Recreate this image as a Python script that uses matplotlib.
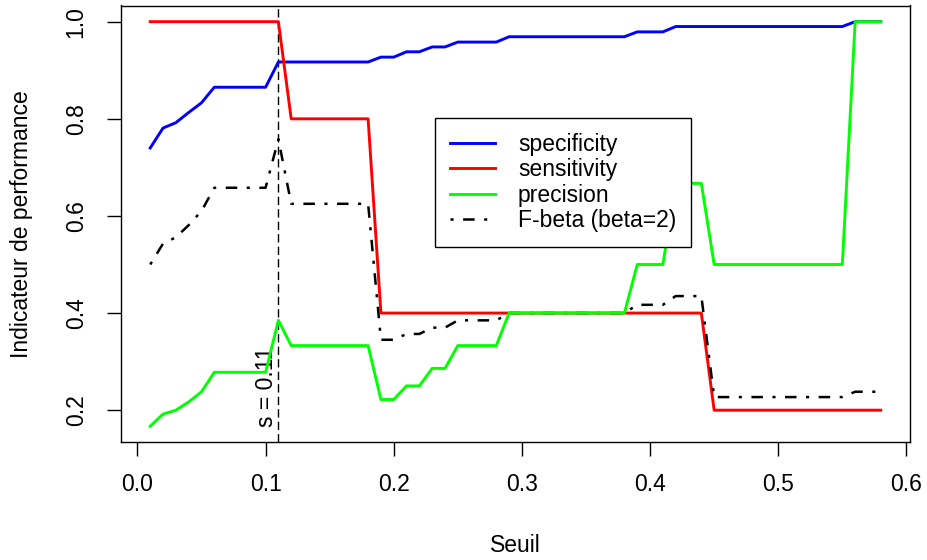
import matplotlib
matplotlib.use("Agg")
import matplotlib.pyplot as plt

# ---- data ----
seuil = [0.01, 0.02, 0.03, 0.04, 0.05, 0.06, 0.07, 0.08, 0.09, 0.10,
         0.11, 0.12, 0.13, 0.14, 0.15, 0.16, 0.17, 0.18, 0.19, 0.20,
         0.21, 0.22, 0.23, 0.24, 0.25, 0.26, 0.27, 0.28, 0.29, 0.30,
         0.31, 0.32, 0.33, 0.34, 0.35, 0.36, 0.37, 0.38, 0.39, 0.40,
         0.41, 0.42, 0.43, 0.44, 0.45, 0.46, 0.47, 0.48, 0.49, 0.50,
         0.51, 0.52, 0.53, 0.54, 0.55, 0.56, 0.57, 0.58]

specificity = [0.740, 0.781, 0.792, 0.813, 0.833, 0.865, 0.865, 0.865, 0.865, 0.865,
               0.917, 0.917, 0.917, 0.917, 0.917, 0.917, 0.917, 0.917, 0.927, 0.927,
               0.938, 0.938, 0.948, 0.948, 0.958, 0.958, 0.958, 0.958, 0.969, 0.969,
               0.969, 0.969, 0.969, 0.969, 0.969, 0.969, 0.969, 0.969, 0.979, 0.979,
               0.979, 0.990, 0.990, 0.990, 0.990, 0.990, 0.990, 0.990, 0.990, 0.990,
               0.990, 0.990, 0.990, 0.990, 0.990, 1.000, 1.000, 1.000]

sensitivity = [1.0, 1.0, 1.0, 1.0, 1.0, 1.0, 1.0, 1.0, 1.0, 1.0,
               1.0, 0.8, 0.8, 0.8, 0.8, 0.8, 0.8, 0.8, 0.4, 0.4,
               0.4, 0.4, 0.4, 0.4, 0.4, 0.4, 0.4, 0.4, 0.4, 0.4,
               0.4, 0.4, 0.4, 0.4, 0.4, 0.4, 0.4, 0.4, 0.4, 0.4,
               0.4, 0.4, 0.4, 0.4, 0.2, 0.2, 0.2, 0.2, 0.2, 0.2,
               0.2, 0.2, 0.2, 0.2, 0.2, 0.2, 0.2, 0.2]

precision = [0.167, 0.192, 0.200, 0.217, 0.238, 0.278, 0.278, 0.278, 0.278, 0.278,
             0.385, 0.333, 0.333, 0.333, 0.333, 0.333, 0.333, 0.333, 0.222, 0.222,
             0.250, 0.250, 0.286, 0.286, 0.333, 0.333, 0.333, 0.333, 0.400, 0.400,
             0.400, 0.400, 0.400, 0.400, 0.400, 0.400, 0.400, 0.400, 0.500, 0.500,
             0.500, 0.667, 0.667, 0.667, 0.500, 0.500, 0.500, 0.500, 0.500, 0.500,
             0.500, 0.500, 0.500, 0.500, 0.500, 1.000, 1.000, 1.000]

fbeta = [0.500, 0.543, 0.556, 0.581, 0.610, 0.658, 0.658, 0.658, 0.658, 0.658,
         0.758, 0.625, 0.625, 0.625, 0.625, 0.625, 0.625, 0.625, 0.345, 0.345,
         0.357, 0.357, 0.370, 0.370, 0.385, 0.385, 0.385, 0.385, 0.400, 0.400,
         0.400, 0.400, 0.400, 0.400, 0.400, 0.400, 0.400, 0.400, 0.417, 0.417,
         0.417, 0.435, 0.435, 0.435, 0.227, 0.227, 0.227, 0.227, 0.227, 0.227,
         0.227, 0.227, 0.227, 0.227, 0.227, 0.238, 0.238, 0.238]

best_seuil = 0.11
series_labels = ["specificity", "sensitivity", "precision", "F-beta (beta=2)"]
xticks = [0.0, 0.1, 0.2, 0.3, 0.4, 0.5, 0.6]
xticklabels = ["0.0", "0.1", "0.2", "0.3", "0.4", "0.5", "0.6"]
yticks = [0.2, 0.4, 0.6, 0.8, 1.0]
yticklabels = ["0.2", "0.4", "0.6", "0.8", "1.0"]

# ---- style ----
plt.rcParams["font.family"] = ["Liberation Sans", "DejaVu Sans"]
fs = 16.5
lw = 2.1
lw_black = 1.8

W, H = 928, 560
fig = plt.figure(figsize=(W / 100, H / 100), dpi=100)
ax = fig.add_axes([121 / W, 1 - 442.4 / H, (910 - 121) / W, (442.4 - 5.5) / H])

l1, = ax.plot(seuil, specificity, color="#0000FF", lw=lw, zorder=3)
l2, = ax.plot(seuil, sensitivity, color="#FF0000", lw=lw, zorder=4)
l4, = ax.plot(seuil, fbeta, color="black", lw=lw_black,
              ls=(0, (1.25, 3.8, 4.6, 3.8)), zorder=5)
l3, = ax.plot(seuil, precision, color="#00FF00", lw=lw, zorder=6)

ax.axvline(best_seuil, color="black", lw=1.0, ls=(0, (6, 3)), zorder=2)
ax.annotate(f"s = {best_seuil}", xy=(best_seuil, 0.248), xytext=(-8.5, 0),
            textcoords="offset points", rotation=90, ha="center", va="center",
            fontsize=fs, color="black")

# R-like 4% axis extension
xr = max(seuil) - min(seuil)
ax.set_xlim(min(seuil) - 0.04 * xr, max(seuil) + 0.04 * xr)
ymin = min(min(specificity), min(sensitivity), min(precision), min(fbeta))
ymax = max(max(specificity), max(sensitivity), max(precision), max(fbeta))
yr = ymax - ymin
ax.set_ylim(ymin - 0.04 * yr, ymax + 0.04 * yr)

ax.set_xticks(xticks)
ax.set_xticklabels(xticklabels)
ax.set_yticks(yticks)
ax.set_yticklabels(yticklabels)
ax.tick_params(axis="both", direction="out", length=10, width=1, color="black",
               labelsize=fs, labelcolor="black")
ax.tick_params(axis="x", pad=12)
ax.tick_params(axis="y", pad=14, labelrotation=90)
for lab in ax.get_yticklabels():
    lab.set_va("center")
for sp in ax.spines.values():
    sp.set_linewidth(1)
    sp.set_color("black")

ax.set_xlabel("Seuil", fontsize=fs)
ax.xaxis.set_label_coords(0.5, -0.235)
ax.xaxis.label.set_va("center")
ax.set_ylabel("Indicateur de performance", fontsize=fs)
ax.yaxis.set_label_coords(-0.1259, 0.5)
ax.yaxis.label.set_va("center")

leg = ax.legend([l1, l2, l3, l4], series_labels, loc="upper left",
                bbox_to_anchor=(0.2325, 0.801), bbox_transform=ax.transData,
                fontsize=fs, frameon=True, fancybox=False, edgecolor="black",
                framealpha=1, borderpad=0.64, handlelength=1.96,
                handletextpad=1.0, labelspacing=0.1, borderaxespad=0)
leg.get_frame().set_linewidth(1)
leg.set_zorder(10)

fig.savefig("out.png", dpi=100)
